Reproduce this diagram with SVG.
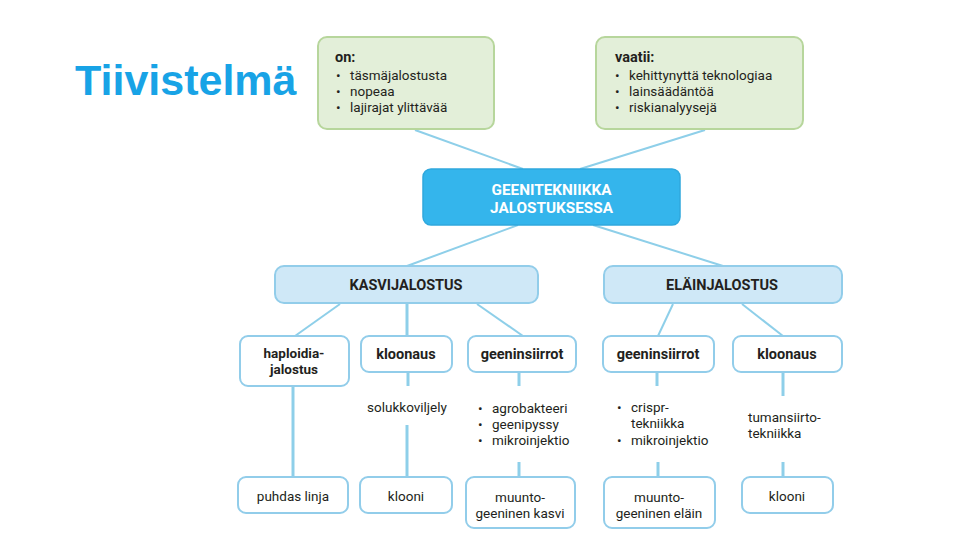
<svg xmlns="http://www.w3.org/2000/svg" width="960" height="540" viewBox="0 0 960 540">
<style>
text{font-family:Roboto,"Liberation Sans",sans-serif;fill:#231f20;font-size:13.5px}
.c{text-anchor:middle}
.b{font-weight:700}
.bs{font-weight:700;font-size:14.5px}
.title{font-family:"Liberation Sans",Arial,sans-serif;font-weight:700;font-size:43px;fill:#18a3e6}
.green{fill:#e3efd9;stroke:#b7d69c;stroke-width:2}
.main{fill:#34b5ec;stroke:#2fa8dd;stroke-width:1.5}
.cat{fill:#cfe8f7;stroke:#92cdea;stroke-width:2}
.node{fill:#ffffff;stroke:#92cdea;stroke-width:2}
.ln{stroke:#8ecfe9;stroke-width:2;fill:none}
.lv{stroke:#8ecfe9;stroke-width:3;fill:none}
.wt{fill:#ffffff;font-weight:700;font-size:15.3px}
</style>
<rect width="960" height="540" fill="#ffffff"/>
<text class="title" x="75" y="95">Tiivistelmä</text>

<g id="connectors">
<line class="ln" x1="415" y1="130" x2="523" y2="169"/>
<line class="ln" x1="705" y1="130" x2="580" y2="169"/>
<line class="ln" x1="518" y1="225" x2="407" y2="266"/>
<line class="ln" x1="593" y1="225" x2="723" y2="266"/>
<line class="ln" x1="340" y1="304" x2="295" y2="336"/>
<line class="lv" x1="407" y1="303" x2="407" y2="336"/>
<line class="ln" x1="477" y1="304" x2="523" y2="336"/>
<line class="ln" x1="673" y1="304" x2="658" y2="336"/>
<line class="ln" x1="742" y1="304" x2="783" y2="336"/>
<line class="lv" x1="293" y1="386" x2="293" y2="477"/>
<line class="lv" x1="408" y1="372" x2="408" y2="386"/>
<line class="lv" x1="407" y1="425" x2="407" y2="477"/>
<line class="lv" x1="519" y1="372" x2="519" y2="386"/>
<line class="lv" x1="519" y1="462" x2="519" y2="477"/>
<line class="lv" x1="657" y1="372" x2="657" y2="386"/>
<line class="lv" x1="658" y1="462" x2="658" y2="477"/>
<line class="lv" x1="783" y1="372" x2="783" y2="396"/>
<line class="lv" x1="783" y1="462" x2="783" y2="477"/>
</g>

<g id="on">
<rect class="green" x="318" y="37" width="176" height="92" rx="9"/>
<text class="bs" x="335" y="62">on:</text>
<text x="336" y="80">•</text><text x="350" y="80">täsmäjalostusta</text>
<text x="336" y="96">•</text><text x="350" y="96">nopeaa</text>
<text x="336" y="112">•</text><text x="350" y="112">lajirajat ylittävää</text>
</g>

<g id="vaatii">
<rect class="green" x="596" y="37" width="207" height="92" rx="9"/>
<text class="bs" x="615" y="62">vaatii:</text>
<text x="615" y="80">•</text><text x="629" y="80">kehittynyttä teknologiaa</text>
<text x="615" y="96">•</text><text x="629" y="96">lainsäädäntöä</text>
<text x="615" y="112">•</text><text x="629" y="112">riskianalyysejä</text>
</g>

<g id="geenitekniikka">
<rect class="main" x="423" y="169" width="257" height="56" rx="8"/>
<text class="c wt" x="551.5" y="195">GEENITEKNIIKKA</text>
<text class="c wt" x="551.5" y="213">JALOSTUKSESSA</text>
</g>

<g id="kasvijalostus">
<rect class="cat" x="275" y="266" width="263" height="37" rx="9"/>
<text class="c bs" x="406" y="290">KASVIJALOSTUS</text>
</g>

<g id="elainjalostus">
<rect class="cat" x="604" y="266" width="238" height="37" rx="9"/>
<text class="c bs" x="722" y="290">ELÄINJALOSTUS</text>
</g>

<g id="haploidia">
<rect class="node" x="240" y="336" width="109" height="50" rx="8"/>
<text class="c b" x="294" y="358">haploidia-</text>
<text class="c b" x="294" y="374">jalostus</text>
</g>

<g id="kloonaus-kasvi">
<rect class="node" x="361" y="336" width="91" height="36" rx="8"/>
<text class="c bs" x="406" y="359">kloonaus</text>
</g>

<g id="geeninsiirrot-kasvi">
<rect class="node" x="468" y="336" width="108" height="36" rx="8"/>
<text class="c bs" x="522" y="359">geeninsiirrot</text>
</g>

<g id="geeninsiirrot-elain">
<rect class="node" x="603" y="336" width="111" height="36" rx="8"/>
<text class="c bs" x="658" y="359">geeninsiirrot</text>
</g>

<g id="kloonaus-elain">
<rect class="node" x="733" y="336" width="109" height="36" rx="8"/>
<text class="c bs" x="787" y="359">kloonaus</text>
</g>

<g id="solukkoviljely">
<text class="c" x="407" y="412">solukkoviljely</text>
</g>

<g id="menetelmat-kasvi">
<text x="478" y="413">•</text><text x="492" y="413">agrobakteeri</text>
<text x="478" y="429">•</text><text x="492" y="429">geenipyssy</text>
<text x="478" y="445">•</text><text x="492" y="445">mikroinjektio</text>
</g>

<g id="menetelmat-elain">
<text x="617" y="412">•</text><text x="631" y="412">crispr-</text>
<text x="631" y="428">tekniikka</text>
<text x="617" y="445">•</text><text x="631" y="445">mikroinjektio</text>
</g>

<g id="tumansiirto">
<text x="748" y="422">tumansiirto-</text>
<text x="748" y="438">tekniikka</text>
</g>

<g id="puhdas-linja">
<rect class="node" x="238" y="477" width="110" height="36" rx="8"/>
<text class="c" x="293" y="501">puhdas linja</text>
</g>

<g id="klooni-kasvi">
<rect class="node" x="360" y="477" width="92" height="36" rx="8"/>
<text class="c" x="406" y="501">klooni</text>
</g>

<g id="muuntogeeninen-kasvi">
<rect class="node" x="466" y="477" width="109" height="51" rx="8"/>
<text class="c" x="520" y="502">muunto-</text>
<text class="c" x="520" y="518">geeninen kasvi</text>
</g>

<g id="muuntogeeninen-elain">
<rect class="node" x="604" y="477" width="111" height="51" rx="8"/>
<text class="c" x="659" y="502">muunto-</text>
<text class="c" x="659" y="518">geeninen eläin</text>
</g>

<g id="klooni-elain">
<rect class="node" x="742" y="477" width="91" height="36" rx="8"/>
<text class="c" x="787" y="501">klooni</text>
</g>
</svg>
